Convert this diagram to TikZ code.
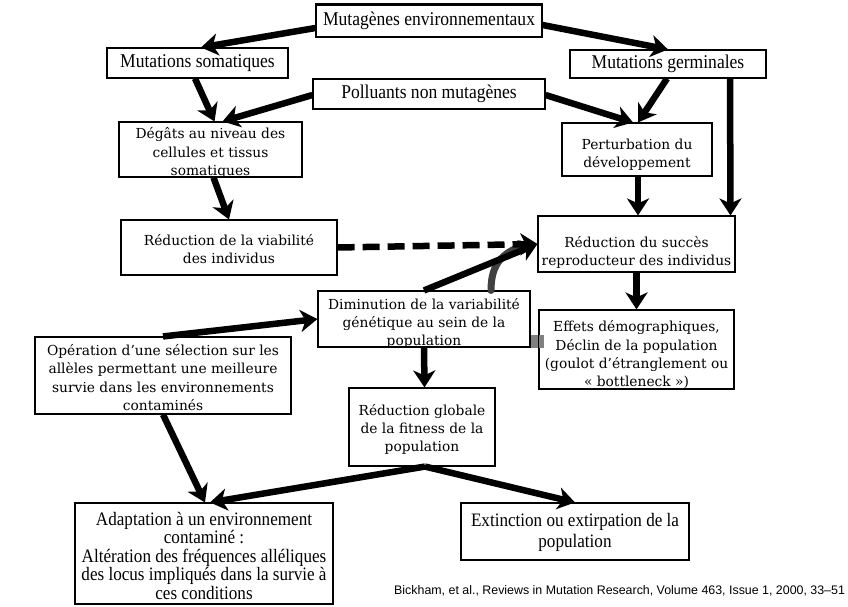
\documentclass[tikz,border=0pt]{standalone}
\usepackage{fontspec}
\setmainfont{Liberation Serif}
\newfontfamily\geo{DejaVu Serif}
\newfontfamily\cond[FakeStretch=0.9]{Liberation Serif}
\setsansfont{Liberation Sans}
\usetikzlibrary{arrows.meta}
\tikzset{
  box/.style={draw=black, line width=1.1pt, fill=white, inner sep=0pt, align=center},
  geotxt/.style={inner sep=0pt, align=center, font=\geo\fontsize{13.8}{18.3}\selectfont},
  timbox/.style={box, font=\cond\fontsize{19.5}{20}\selectfont},
  timtxt/.style={inner sep=0pt, align=center, font=\cond\fontsize{19}{18.5}\selectfont},
  arr/.style={line width=6.5pt, -{Stealth[length=17pt,width=22pt,inset=5pt]}},
  darr/.style={arr, dash pattern=on 17pt off 8pt},
  curv/.style={line width=7pt, draw=black!75, line cap=round},
  shade/.style={line width=13pt, draw=black!50},
  edge/.style={line width=1.1pt, draw=black},
}
\begin{document}
\begin{tikzpicture}[x=1pt,y=-1pt]
\useasboundingbox (0,0) rectangle (848,607);
\fill[white] (0,0) rectangle (848,607);

\node[timbox, minimum width=226pt, minimum height=32pt] (mut) at (429,21) {Mutagènes environnementaux};
\node[timbox, minimum width=181pt, minimum height=30pt] (som) at (197.5,63) {Mutations somatiques};
\node[timbox, minimum width=196pt, minimum height=28pt] (ger) at (668,64) {Mutations germinales};
\node[timbox, minimum width=232pt, minimum height=30pt] (pol) at (429,94) {Polluants non mutagènes};

\node[box, minimum width=183pt, minimum height=55pt] (deg) at (210.5,149.5) {};
\node[geotxt] (degt) at ([yshift=-3.5pt]deg.center) {Dégâts au niveau des\\cellules et tissus\\somatiques};
\node[box, minimum width=150pt, minimum height=53pt] (per) at (637,149.5) {};
\node[geotxt] (pert) at ([yshift=-5pt]per.center) {Perturbation du\\développement};
\node[box, minimum width=216pt, minimum height=55pt] (via) at (229,247.5) {};
\node[geotxt] (viat) at ([yshift=-1.5pt]via.center) {Réduction de la viabilité\\des individus};
\node[box, minimum width=197pt, minimum height=56pt] (suc) at (636.5,244) {};
\node[geotxt] (suct) at ([yshift=-8.5pt]suc.center) {Réduction du succès\\reproducteur des individus};
\node[box, minimum width=212pt, minimum height=56pt] (dim) at (424,319) {};
\node[geotxt] (dimt) at ([yshift=-4.5pt]dim.center) {Diminution de la variabilité\\génétique au sein de la\\population};
\node[box, minimum width=195pt, minimum height=79pt] (eff) at (636.5,349.5) {};
\node[geotxt] (efft) at ([yshift=-5.5pt]eff.center) {Effets démographiques,\\Déclin de la population\\(goulot d’étranglement ou\\«~bottleneck~»)};
\node[box, minimum width=256pt, minimum height=77pt] (ope) at (163,375.5) {};
\node[geotxt] (opet) at ([yshift=-2pt]ope.center) {Opération d’une sélection sur les\\allèles permettant une meilleure\\survie dans les environnements\\contaminés};
\node[box, minimum width=146pt, minimum height=78pt] (glo) at (422,427) {};
\node[geotxt] (glot) at ([yshift=-2.5pt]glo.center) {Réduction globale\\de la fitness de la\\population};
\node[box, minimum width=258pt, minimum height=101pt] (ada) at (204,553.5) {};
\node[timtxt] (adat) at ([yshift=-2pt]ada.center) {Adaptation à un environnement\\contaminé :\\Altération des fréquences alléliques\\des locus impliqués dans la survie à\\ces conditions};
\node[box, minimum width=228pt, minimum height=57pt] (ext) at (575,531.5) {};
\node[timtxt, font=\cond\fontsize{19}{21}\selectfont] (extt) at ([yshift=-1pt]ext.center) {Extinction ou extirpation de la\\population};
\node[font=\sffamily\fontsize{12.4}{14}\selectfont, anchor=west, inner sep=0pt] (cite) at (394,591)
  {Bickham, et al., Reviews in Mutation Research, Volume 463, Issue 1, 2000, 33–51};

\draw[line width=2.5pt] (mut.north west) -- (mut.north east);

% connectors
\draw[arr] ([yshift=-7pt]mut.west) -- ([xshift=3.5pt]som.north);
\draw[arr] ([yshift=-4pt]mut.east) -- (ger.north);
\draw[arr] ([xshift=-2.5pt]som.south) -- ([xshift=4pt]deg.north);
\draw[arr] ([yshift=-1pt]pol.west) -- ([xshift=12pt]deg.north);
\draw[arr] ([yshift=-1pt]pol.east) -- ([xshift=-4pt]per.north);
\draw[arr] ([xshift=-1pt]ger.south) -- ([xshift=1pt]per.north);
\draw[arr] ([xshift=62pt]ger.south) -- ([xshift=94pt]suc.north);
\draw[arr] ([xshift=1pt]per.south) -- ([xshift=1.5pt]suc.north);
\draw[arr] ([xshift=3pt]deg.south) -- (via.north);
\draw[curv] ([xshift=67pt]dim.north) .. controls +(0,-28) and +(-20,8) .. ([xshift=-14pt,yshift=-1pt]suc.west);
\draw[darr] (via.east) -- (suc.west);
\draw[arr] (dim.north) -- (suc.west);
\draw[arr] (suc.south) -- (eff.north);
\draw[arr] (ope.north) -- (dim.west);
\draw[arr] (dim.south) -- ([xshift=2.5pt]glo.north);
\draw[arr] (ope.south) -- ([xshift=1pt]ada.north);
\draw[arr] ([xshift=3pt]glo.south) -- ([xshift=6pt]ada.north);
\draw[arr] ([xshift=3pt]glo.south) -- (ext.north);
\draw[shade] ([yshift=-22.5pt]dim.east) -- ([xshift=6pt,yshift=8pt]eff.west);
\draw[edge] (eff.north west) -- (eff.south west);
\end{tikzpicture}
\end{document}
